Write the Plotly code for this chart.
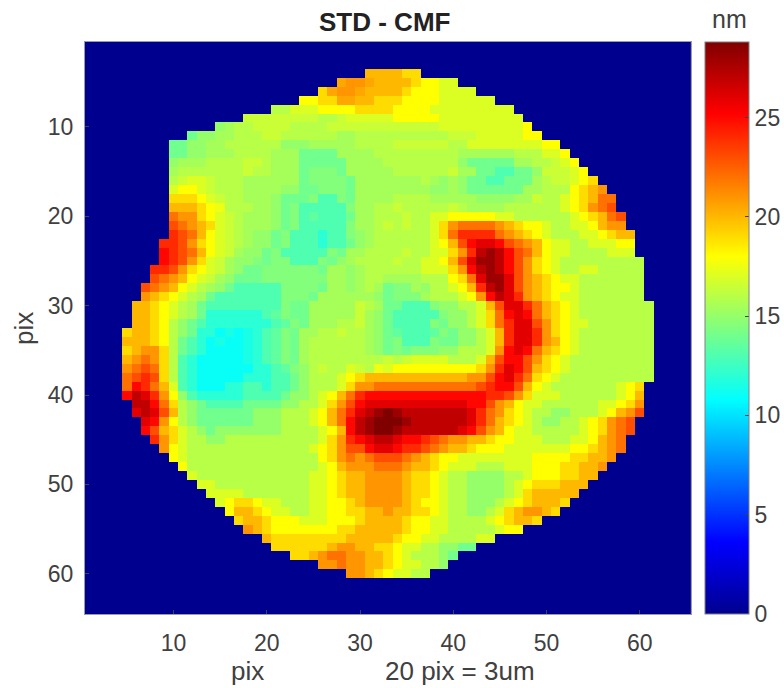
import plotly.graph_objects as go

W, H = 784, 688
L, R, T, B = 85, 692, 42, 614

N_COLS, N_ROWS = 65, 64
LETTERS = "abcdefghijklmnopqrst"   # a=10 nm ... t=29 nm; capital letter = half a nm more
X_TICKS = [10, 20, 30, 40, 50, 60]
Y_TICKS = [10, 20, 30, 40, 50, 60]
CB_TICKS = [0, 5, 10, 15, 20, 25]
ZMAX = 28.8

FIRST_ROW = 4
ROW_FIRST_COL = [31,28,26,24,21,18,15,12,10,10,10,10,10,10,10,10,10,10,10,9,9,9,8,8,7,7,6,6,6,5,5,5,5,5,5,5,5,6,6,7,7,8,9,10,11,12,13,14,15,16,17,18,20,21,23,26,29]
ROW_LAST_COL = [36,40,42,44,46,47,48,49,51,52,53,54,55,56,57,57,58,58,59,59,59,60,60,60,60,60,61,61,61,61,61,61,61,61,61,60,60,60,60,59,59,58,58,57,56,55,54,53,52,51,49,47,44,42,40,39,37]

# Each row starts at its first column; groups break at columns 10, 20, 30 ...
ROWS = [
 "kkkkjj",
 "KllKkkkkjiihh",
 "jKllKkkkkjiiihhhh",
 "iijjKKkkjjjiiiihhhhhh",
 "gghhhiiii jjjjiiiihh hhhhhhh",
 "GG GGGGGGggGh hhhhiiiiih hhhhhhhhii",
 "fFggG GGGggggGGG GGGGGGGGGh hhhhhhhhii",
 "effFFggg GGggggggFF gggggggggg GGGhhhhhii",
 "eeffFFgggg ggfffFFFFF ggggGGGGGG gghhhhhhhh ii",
 "eeffFFFggg gFFFeeeeFF FFgggggggg gFFFFFFggg hhi",
 "fFFFggggGG gFFFeeeeeF FFFggggggg gfeeeeeFFg gGhi",
 "FgggggggGg gFFFeEEEeF FFFFgggggg GFFeeddeef GGGhi",
 "gGhhGgggFF FFFFeEEEEe FFFFFFFgFf FfeeddeeeF gGGhij",
 "hiihGgggFF FFffeeEEEe FFFFFFFFff FfeeeeeeFF gggijkl",
 "jjjihGggFF FfeeeEddEe FFFFggggFF FFFffffFFG gghijkmm",
 "kkkjiHgggF FfeEdddddE FFggGggggg GgFFFFgggg gghijlmn",
 "mlljihGgFF FfeEdDddde FFgggGgghh iiiiihhggg ggghijkmn",
 "nmlkjhGgFF FfeEdddddE FFgGgGgghj lmmmmlkjii hgghhikll",
 "onmkihGgFf feEdddcddE fFgggggghj moooomlkji hggghhijkk",
 "o onljihGgFf feEdddcdde fFgggggghi knpqqpnmlk ihhgghhhii",
 "p onmkihGFff eEdddddEeF FggggGgghh jlorsrpnmk ihhgggghhh",
 "p onljhGFff EeEEdddEef FggggGgghh iknqssrpnl jihggggggg g",
 "oo nljihGFfe eEEEEEEeFF fFgggggghh hjlprsrpnl jihgghhggg g",
 "nm lkihGFfee eEEEEEEEFF fFggFFFFgg gijmqssqnl kjihhggggg g",
 "nml kihgFfedd dddEEEEeFF fFgFeEEFfg ghikorsqnl kjiihggggg g",
 "lkj ihgFedddd dddEEEeFFF FFFfeEEEFg gghilprqol kjihhggggg g",
 "kkji hgFedddddd ddEeeFFFFF GgFeedddEf fgghknqqom kjihgggggg gg",
 "kkji hgFecccccc dDEeeFFFFF GFfedddddE ffghjmpqpm kjihgggggg gg",
 "kkji gfedcccccc cdDEeFFFgg GFfeddddEe ffghjmoqqn ljihhggggg gg",
 "jkkji gfeccbBbBc dDEeFFggGg gFfeDdddDE effghkoqqo ljihgggggg gg",
 "kkkji gedcbBbbBc dDEeFggggg gFfeEdddEe effghkoqqo lkihgggggg gg",
 "jkllj gedcbbbbBc dDEeFggggg gFfeEeEEEf fggghlpqpm kjihgggggg gg",
 "klmlj gdcbbbbbBc dDEeFggggg gggGgGhhhh ggghknppnl jihggggggg gg",
 "lmnmj gdcbbbbbbc cdDEfgGggh GgHhiiiiii iiijloqpnk jihggggggg gg",
 "mnonj gdcbbbbbcc cddefggghi jkkkkkkkkk kkllnpqomj ihgggggggg gg",
 "mpomk hdcbbbccdd cddefggghj llmmmmmmmm mmmnoppnki hggggggghi j",
 "prqol ifdcccccdd ddeffghikm oppppppppp ppppoonljh hhgggggghi k",
 "rrpm jgfeddddee eeffgghjln pqqqqqqqqq qqppnlkihh gggggghhij l",
 "qrqn kgfeeeeeef ffggghikmo qrstsrrrrr rrqomljihg gffggghikl n",
 "qpl igfeeeeeef ffggghikmp rstttsrrrr rrqomkjihg ffgghijlmn",
 "pnk jhgfefffff ffgggghikp rsttsrrrrr rqpnlkihhg gggghijlmn",
 "ol jhggffgggg gggggghjlo pqrrqppo nm llkkjiihhh ggghhiklm",
 "l ihgggggggg ggggghijln npqqpoonml kkjiiihhhh hhhiijklm",
 "ihgggggggg ggggggijlm lmnnnmlkji ihhhhhhhhi iiijjkkl",
 "igggggggg gggggghikl llmmmlkkji hhhggghhhi iijjkkl",
 "hggggggg ggggghhijk kllllkjjih ggffffgghi iijjkk",
 "hhggggg ggggghhijk kllllkjjih ggffffghij jjkkk",
 "hhhhgg ggggghhijk kllllkjjih ggffffghjk kkkk",
 "hijji hhggghhiij kllllkjiih ggfffghijk kkj",
 "ikkj ihhgghhiij jkklkkjjih ggffghjkll kj",
 "jkk jiiihhhiii jkkkkjiihh gggghijkkj",
 "lk jiiiiiiijj kkkkkjiihh ggggghii",
 "kjjjjjjjjk kkkkjiihhg ggghh",
 "jjjjjjkll kkjjihhggf fee",
 "jjklmml lkkjihgggf e",
 "llml lkkjihhggf",
 "llkjihhgg",
]

JET = [
    [0.0, "rgb(0,0,143)"], [0.125, "rgb(0,0,255)"], [0.375, "rgb(0,255,255)"],
    [0.625, "rgb(255,255,0)"], [0.875, "rgb(255,0,0)"], [1.0, "rgb(128,0,0)"],
]

z = [[0] * N_COLS for _ in range(N_ROWS)]
for i, text in enumerate(ROWS):
    row = i + FIRST_ROW
    first, last = ROW_FIRST_COL[i], ROW_LAST_COL[i]
    letters = text.replace(" ", "")
    for col in range(first, last + 1):
        ch = letters[min(col - first, len(letters) - 1)]
        z[row - 1][col - 1] = 10 + LETTERS.index(ch.lower()) + (0.5 if ch.isupper() else 0)

x = list(range(1, N_COLS + 1))
y = list(range(1, N_ROWS + 1))

GRAY = "#404040"
FONT = "Liberation Sans"
TICK = 23

fig = go.Figure(go.Heatmap(
    x=x, y=y, z=z, zmin=0, zmax=ZMAX, colorscale=JET, zsmooth=False, hoverongaps=False,
    colorbar=dict(
        thicknessmode="pixels", thickness=44, lenmode="fraction", len=(B - T) / H,
        x=705 / W, xanchor="left", xref="paper", y=1 - T / H, yanchor="top", yref="paper",
        xpad=0, ypad=0, outlinecolor="#808080", outlinewidth=1,
        tickmode="array", tickvals=CB_TICKS, ticks="inside", ticklen=4, tickcolor=GRAY,
        tickfont=dict(family=FONT, size=TICK, color=GRAY),
    ),
))

axis = dict(showgrid=False, zeroline=False, showline=True, linecolor="#9a9aa8", linewidth=1,
            mirror=True, ticks="inside", ticklen=4, tickcolor="#404060",
            tickfont=dict(family=FONT, size=TICK, color=GRAY), tickmode="array")

def label(text, px, py, size, color=GRAY, angle=0):
    return dict(text=text, x=px / W, y=1 - py / H, xref="paper", yref="paper", showarrow=False,
                xanchor="center", yanchor="middle", textangle=angle,
                font=dict(family=FONT, size=size, color=color))

fig.update_layout(
    width=W, height=H, autosize=False, margin=dict(l=0, r=0, t=0, b=0),
    paper_bgcolor="white", plot_bgcolor="white",
    xaxis=dict(axis, domain=[L / W, R / W], range=[0.5, 65.5], tickvals=X_TICKS, ticklabelstandoff=8),
    yaxis=dict(axis, domain=[1 - B / H, 1 - T / H], range=[64.5, 0.5], tickvals=Y_TICKS, ticklabelstandoff=6),
    annotations=[
        label("<b>STD - CMF</b>", 385, 22, 26, "#222222"),
        label("nm", 730, 19, 25),
        label("pix", 248, 671, 26),
        label("20 pix = 3um", 461, 671, 26),
        label("pix", 24, 328, 26, angle=-90),
    ],
)
fig.write_html("out.html", post_script="document.body.style.margin='0';",
               config={"displayModeBar": False})
